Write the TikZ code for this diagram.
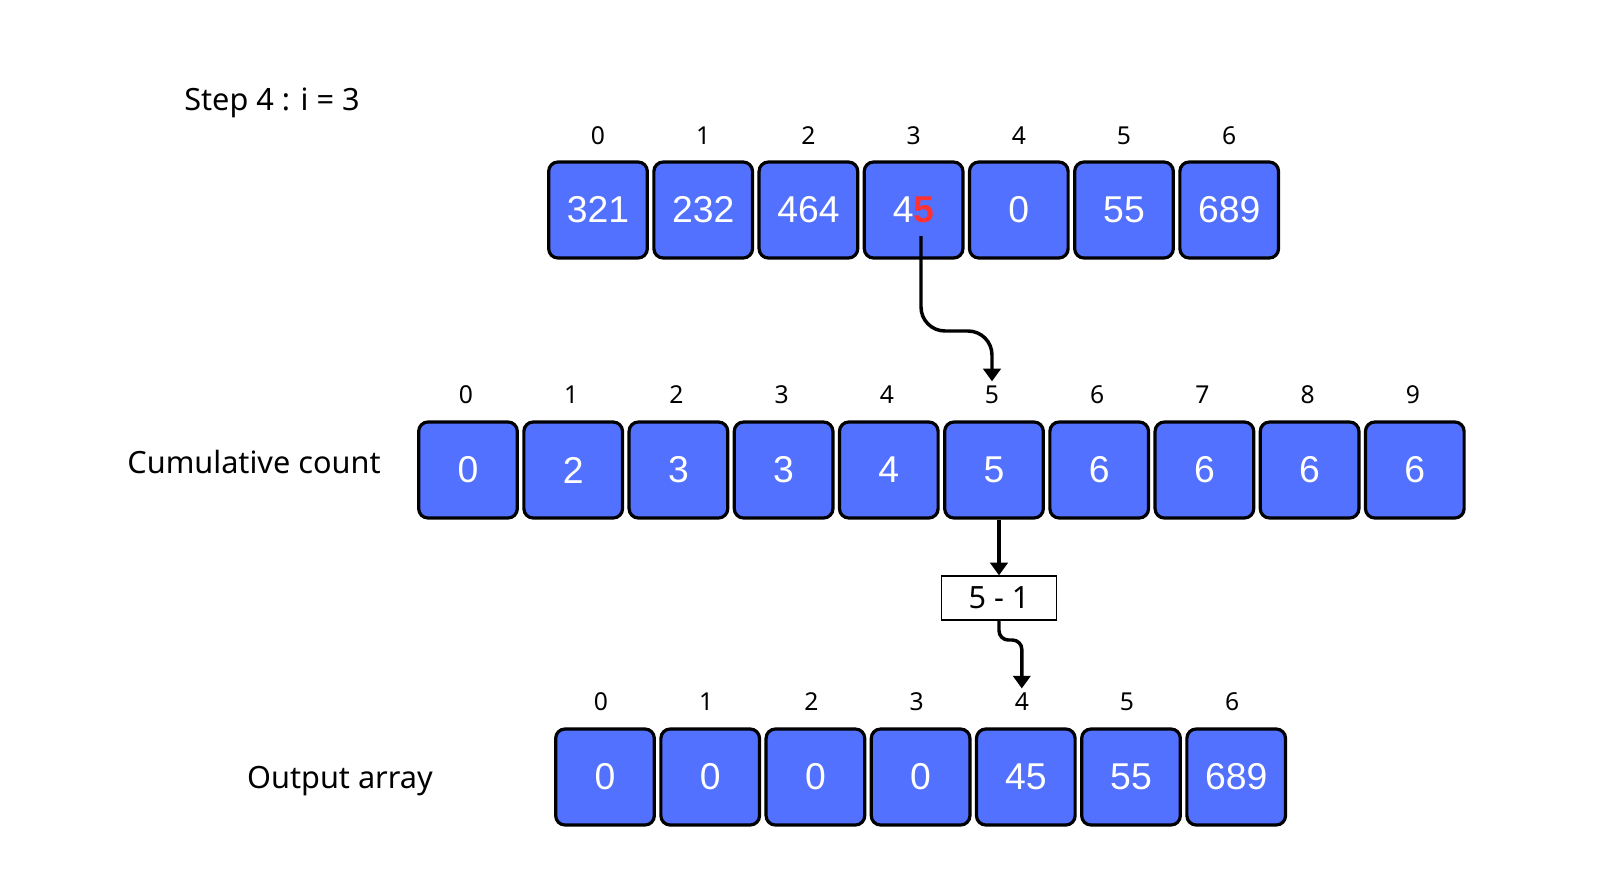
\documentclass[tikz,border=0pt]{standalone}
\usepackage{fontspec}
\setmainfont{Noto Sans}
\newfontfamily\numfont{Liberation Sans}
\usetikzlibrary{arrows.meta,calc}

\definecolor{cellblue}{HTML}{5271FF}
\definecolor{digitred}{HTML}{FF3131}

\tikzset{
    cell/.style={draw=black, line width=2.4pt, rounded corners=7pt, fill=cellblue,
        minimum width=74pt, minimum height=72pt, inner sep=0pt,
        text=white, font=\numfont\fontsize{28}{30}\selectfont},
    idx/.style={font=\fontsize{18.5}{20}\selectfont},
    lbl/.style={font=\fontsize{23}{26}\selectfont},
    arr/.style={line width=2.6pt, -{Triangle[width=13pt,length=9.5pt]}},
}

\begin{document}
\begin{tikzpicture}[x=0.75pt,y=0.75pt,yscale=-1,xscale=1]
    \useasboundingbox (0,0) rectangle (1600,869);

    % Text Node
    \node[lbl] (step) at (272,103) {Step 4 : i = 3};
    \node[lbl] (cumlbl) at (254,462) {Cumulative count};
    \node[lbl] (outlbl) at (340,781) {Output array};

    % input array
    \foreach \v [count=\i from 0] in {321,232,464,{4{\color{digitred}\bfseries 5}},0,55,689} {
        \node[cell] (t\i) at ({598+105.2*\i},210) {\v};
        \node[idx] (ti\i) at ({598+105.2*\i},136) {\i};
    }

    % cumulative count
    \foreach \v [count=\i from 0] in {0,2,3,3,4,5,6,6,6,6} {
        \node[cell] (c\i) at ({468+105.2*\i},470) {\v};
        \node[idx] (ci\i) at ({466+105.2*\i},395) {\i};
    }

    % output array
    \foreach \v [count=\i from 0] in {0,0,0,0,45,55,689} {
        \node[cell] (o\i) at ({605+105.2*\i},777) {\v};
        \node[idx] (oi\i) at ({601+105.2*\i},702) {\i};
    }

    % 5 - 1 box
    \node[draw, line width=1pt, minimum width=86pt, minimum height=33pt, lbl] (m) at (999,598) {5 - 1};

    % connectors
    \coordinate (d5) at (921,236);
    \coordinate (bend) at (955,331);
    \draw[arr, rounded corners=18pt] (d5) -- (d5 |- bend) -- (ci5.north |- bend) -- (ci5.north);
    \draw[arr] (c5.south -| m.north) -- (m.north);
    \coordinate (mid) at (1008,640);
    \draw[arr, rounded corners=7pt] (m.south) -- (m.south |- mid) -- (oi4.north |- mid) -- (oi4.north);

\end{tikzpicture}
\end{document}
